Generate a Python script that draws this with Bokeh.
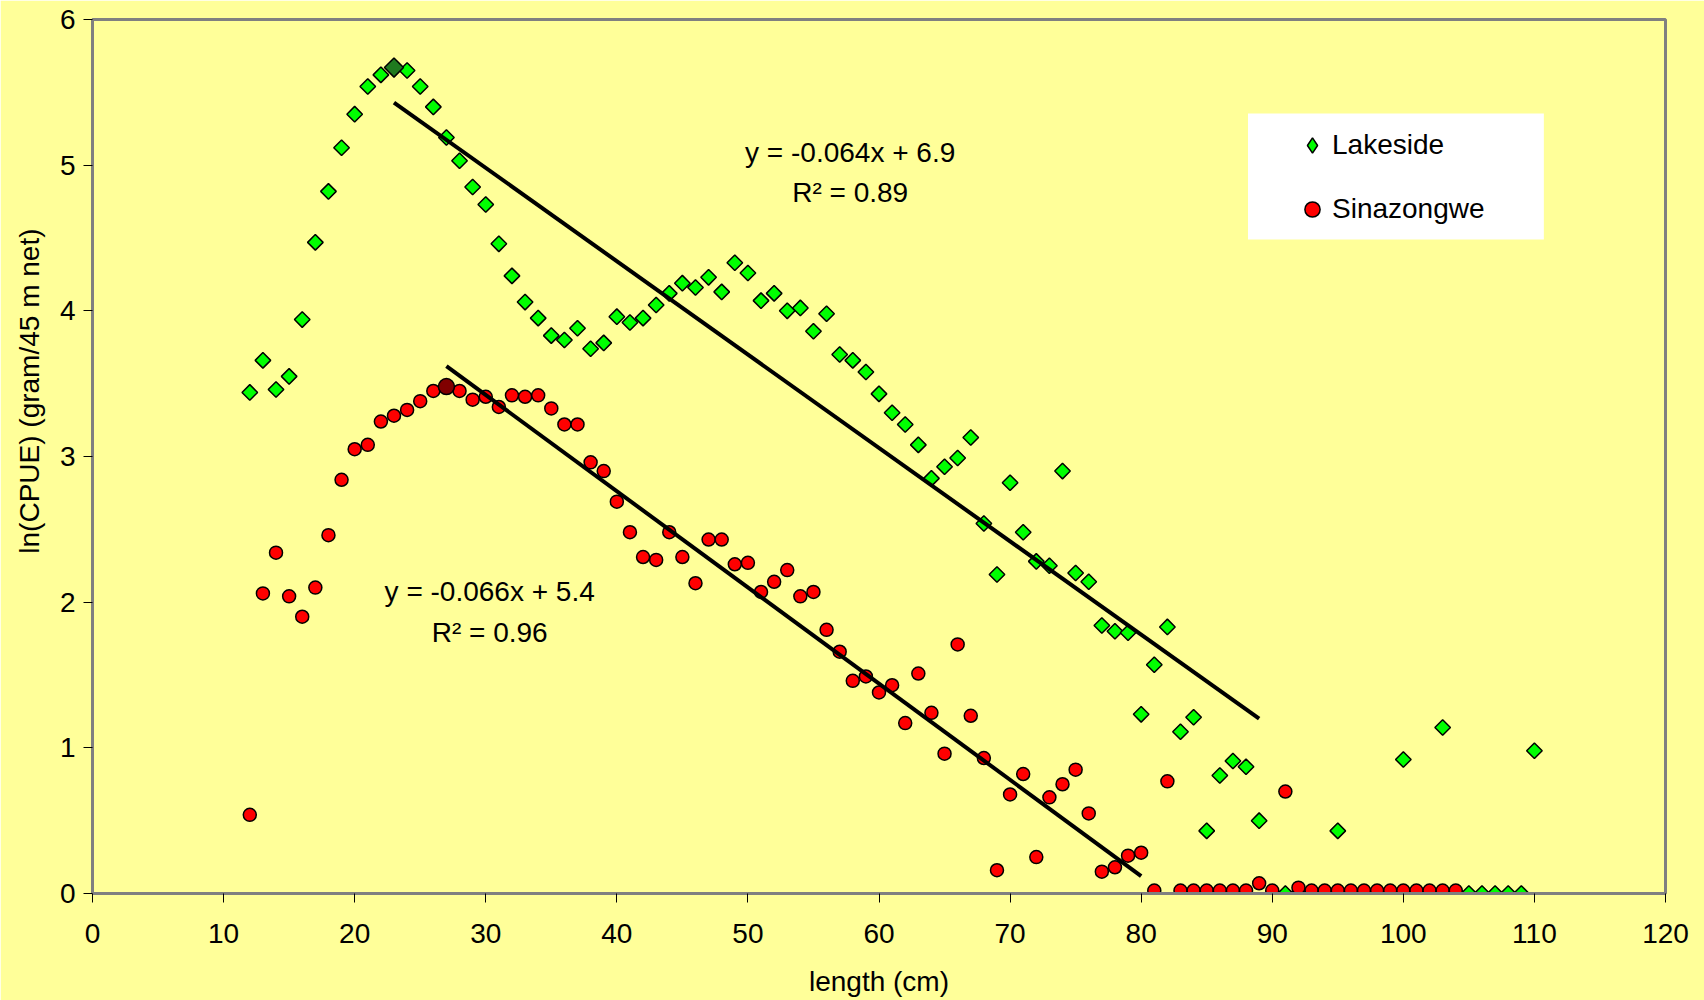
import math
from bokeh.plotting import figure
from bokeh.models import Range1d, Label, Legend, LegendItem, BoxAnnotation, FixedTicker, Title
from bokeh.embed import file_html
from bokeh.resources import INLINE

# ---------------- data ----------------
lake_x = [12, 13, 14, 15, 16, 17, 18, 19, 20, 21, 22, 23, 24, 25, 26, 27, 28, 29, 30,
          31, 32, 33, 34, 35, 36, 37, 38, 39, 40, 41, 42, 43, 44, 45, 46, 47, 48, 49, 50,
          51, 52, 53, 54, 55, 56, 57, 58, 59, 60, 61, 62, 63, 64, 65, 66, 67, 68, 69, 70,
          71, 72, 73, 74, 75, 76, 77, 78, 79, 80, 81, 82, 83, 84, 85, 86, 87, 88, 89, 90,
          91, 92, 93, 94, 95, 96, 97, 98, 99, 100, 101, 102, 103, 104, 105, 106, 107, 108,
          109, 110]
lake_y = [3.44, 3.66, 3.46, 3.55, 3.94, 4.47, 4.82, 5.12, 5.35, 5.54, 5.62, 5.67, 5.65,
          5.54, 5.40, 5.19, 5.03, 4.85, 4.73, 4.46, 4.24, 4.06, 3.95, 3.83, 3.80, 3.88,
          3.74, 3.78, 3.96, 3.92, 3.95, 4.04, 4.12, 4.19, 4.16, 4.23, 4.13, 4.33, 4.26,
          4.07, 4.12, 4.00, 4.02, 3.86, 3.98, 3.70, 3.66, 3.58, 3.43, 3.30, 3.22, 3.08,
          2.85, 2.93, 2.99, 3.13, 2.54, 2.19, 2.82, 2.48, 2.28, 2.25, 2.90, 2.20, 2.14,
          1.84, 1.80, 1.79, 1.23, 1.57, 1.83, 1.11, 1.21, 0.43, 0.81, 0.91, 0.87, 0.50,
          0.0, 0.0, 0.0, 0.0, 0.0, 0.43, 0.0, 0.0, 0.0, 0.0, 0.92, 0.0, 0.0, 1.14, 0.0,
          0.0, 0.0, 0.0, 0.0, 0.0, 0.98]

sina_x = [12, 13, 14, 15, 16, 17, 18, 19, 20, 21, 22, 23, 24, 25, 26, 27, 28, 29, 30,
          31, 32, 33, 34, 35, 36, 37, 38, 39, 40, 41, 42, 43, 44, 45, 46, 47, 48, 49, 50,
          51, 52, 53, 54, 55, 56, 57, 58, 59, 60, 61, 62, 63, 64, 65, 66, 67, 68, 69, 70,
          71, 72, 73, 74, 75, 76, 77, 78, 79, 80, 81, 82, 83, 84, 85, 86, 87, 88, 89, 90,
          91, 92, 93, 94, 95, 96, 97, 98, 99, 100, 101, 102, 103, 104]
sina_y = [0.54, 2.06, 2.34, 2.04, 1.90, 2.10, 2.46, 2.84, 3.05, 3.08, 3.24, 3.28, 3.32,
          3.38, 3.45, 3.48, 3.45, 3.39, 3.41, 3.34, 3.42, 3.41, 3.42, 3.33, 3.22, 3.22,
          2.96, 2.90, 2.69, 2.48, 2.31, 2.29, 2.48, 2.31, 2.13, 2.43, 2.43, 2.26, 2.27,
          2.07, 2.14, 2.22, 2.04, 2.07, 1.81, 1.66, 1.46, 1.49, 1.38, 1.43, 1.17, 1.51,
          1.24, 0.96, 1.71, 1.22, 0.93, 0.16, 0.68, 0.82, 0.25, 0.66, 0.75, 0.85, 0.55,
          0.15, 0.18, 0.26, 0.28, 0.02, 0.77, 0.02, 0.02, 0.02, 0.02, 0.02, 0.02, 0.07,
          0.02, 0.70, 0.04, 0.02, 0.02, 0.02, 0.02, 0.02, 0.02, 0.02, 0.02, 0.02, 0.02,
          0.02, 0.02]

# highlighted (peak) points
lake_peak_x = [23]
lake_peak_y = [5.67]
sina_peak_x = [27]
sina_peak_y = [3.48]

# linear trend lines (end points)
lake_trend_x = [23, 89]
lake_trend_y = [5.43, 1.20]
sina_trend_x = [27, 80]
sina_trend_y = [3.62, 0.12]

x_ticks = [0, 10, 20, 30, 40, 50, 60, 70, 80, 90, 100, 110, 120]
y_ticks = [0, 1, 2, 3, 4, 5, 6]

lake_eq = "y = -0.064x + 6.9"
lake_r2 = "R\u00b2 = 0.89"
sina_eq = "y = -0.066x + 5.4"
sina_r2 = "R\u00b2 = 0.96"

# ---------------- styling ----------------
BG = "#FFFF99"
FONT = "Liberation Sans"
FS = "28px"

p = figure(width=1704, height=1000, output_backend="svg", toolbar_location=None,
           x_range=Range1d(0, 120), y_range=Range1d(0, 6),
           min_border_left=91, min_border_top=19, min_border_right=39, min_border_bottom=107)
p.background_fill_color = BG
p.border_fill_color = BG
p.outline_line_color = "#808080"
p.outline_line_width = 3
p.grid.visible = False

for ax in (p.xaxis[0], p.yaxis[0]):
    ax.axis_line_color = "#808080"
    ax.axis_line_width = 3
    ax.major_tick_line_color = "black"
    ax.major_tick_line_width = 1
    ax.major_tick_in = 0
    ax.major_tick_out = 9
    ax.minor_tick_line_color = None
    ax.major_label_text_font = FONT
    ax.major_label_text_font_size = FS
    ax.major_label_text_color = "black"
    ax.axis_label_text_font = FONT
    ax.axis_label_text_font_size = FS
    ax.axis_label_text_font_style = "normal"
    ax.axis_label_text_color = "black"

p.xaxis[0].ticker = FixedTicker(ticks=x_ticks)
p.yaxis[0].ticker = FixedTicker(ticks=y_ticks)
p.xaxis[0].major_label_standoff = 21
p.yaxis[0].major_label_standoff = 8
p.xaxis[0].axis_label = "length (cm)"
p.xaxis[0].axis_label_standoff = 20

# y axis title, placed off-centre (as in the original) via a side title
ytitle = Title(text="ln(CPUE) (gram/45 m net)", align="right", offset=209,
               text_font=FONT, text_font_size=FS, text_font_style="normal",
               text_color="black", standoff=23)
p.add_layout(ytitle, "left")

# legend key for the diamonds (legend glyphs are drawn unrotated); sits hidden under the squares
lake_key = p.scatter(lake_x, lake_y, marker="diamond", size=8,
                     fill_color="#00FF00", line_color="black", line_width=1.5)

# data
r_lake = p.scatter(lake_x, lake_y, marker="square", angle=math.pi / 4, size=11,
                   fill_color="#00FF00", line_color="black", line_width=1.5)
r_sina = p.scatter(sina_x, sina_y, marker="circle", size=13,
                   fill_color="#FF0000", line_color="black", line_width=1.5)
p.scatter(lake_peak_x, lake_peak_y, marker="square", angle=math.pi / 4, size=13.5,
          fill_color="#1F7A1F", line_color="black", line_width=1.5)
p.scatter(sina_peak_x, sina_peak_y, marker="circle", size=16,
          fill_color="#800000", line_color="black", line_width=1.5)

p.line(lake_trend_x, lake_trend_y, line_color="black", line_width=4)
p.line(sina_trend_x, sina_trend_y, line_color="black", line_width=4)

# equations
for (tx, ty, t) in [(57.8, 5.09, lake_eq), (57.8, 4.81, lake_r2),
                    (30.3, 2.07, sina_eq), (30.3, 1.79, sina_r2)]:
    p.add_layout(Label(x=tx, y=ty, text=t, text_align="center", text_baseline="middle",
                       text_font=FONT, text_font_size=FS, text_color="black"))

# legend: white box + transparent legend
box = BoxAnnotation(left=88.15, right=110.72, top=5.355, bottom=4.49,
                    fill_color="white", fill_alpha=1.0, line_color=None, level="annotation")
p.add_layout(box)

legend = Legend(items=[LegendItem(label="Lakeside", renderers=[lake_key]),
                       LegendItem(label="Sinazongwe", renderers=[r_sina])],
                location=(1201, 665), orientation="vertical",
                background_fill_alpha=0.0, border_line_color=None,
                padding=0, margin=0, spacing=26,
                glyph_width=38, glyph_height=38, label_height=32, label_standoff=1,
                label_text_font=FONT, label_text_font_size=FS, label_text_color="black")
p.add_layout(legend, "center")

html = file_html(p, INLINE)
html = html.replace("<body>", '<body style="background-color:#FFFF99;">', 1)
open("out.html", "w").write(html)
